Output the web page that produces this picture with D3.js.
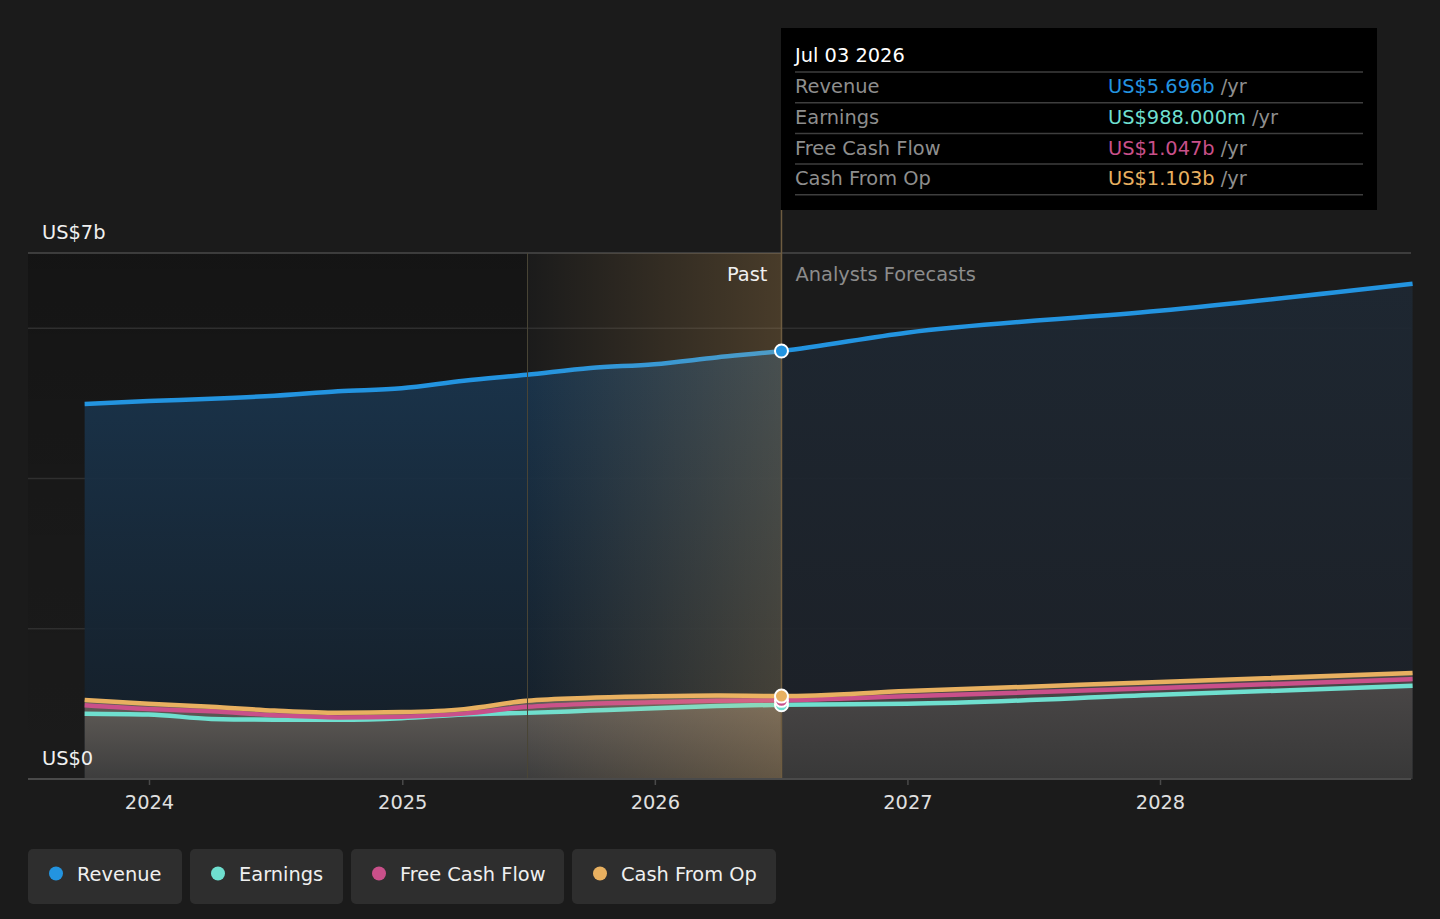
<!DOCTYPE html>
<html>
<head>
<meta charset="utf-8">
<script src="https://cdn.jsdelivr.net/npm/d3@7"></script>
<style>
	html, body { margin: 0; padding: 0; background: #1b1b1b; }
	svg { display: block; font-family: "DejaVu Sans", sans-serif; }
</style>
</head>
<body>
<svg id="chart" width="1440" height="919"></svg>
<script>
// quarter ends up to the tooltip date, then analyst forecast points
var pastDates = ["2023-09-30", "2023-12-31", "2024-03-31", "2024-06-30", "2024-09-30", "2024-12-31",
	"2025-03-31", "2025-06-30", "2025-09-30", "2025-12-31", "2026-03-31", "2026-07-03"];
var forecastDates = ["2026-07-03", "2026-12-31", "2027-12-31", "2028-12-31"];

// values in US$ billions
var revenuePast = [4.99, 5.03, 5.06, 5.10, 5.16, 5.20, 5.30, 5.38, 5.47, 5.52, 5.61, 5.696];
var revenueForecast = [5.696, 5.94, 6.23, 6.59];
var earningsPast = [0.87, 0.86, 0.80, 0.79, 0.79, 0.81, 0.86, 0.88, 0.91, 0.94, 0.97, 0.988];
var earningsForecast = [0.988, 1.00, 1.12, 1.24];
var fcfPast = [0.98, 0.93, 0.90, 0.85, 0.82, 0.83, 0.87, 0.96, 1.00, 1.02, 1.04, 1.047];
var fcfForecast = [1.047, 1.10, 1.21, 1.33];
var cfoPast = [1.05, 1.00, 0.96, 0.91, 0.88, 0.89, 0.93, 1.04, 1.08, 1.10, 1.11, 1.103];
var cfoForecast = [1.103, 1.17, 1.29, 1.41];

var yearTicks = ["2024", "2025", "2026", "2027", "2028"];
var gridValues = [2, 4, 6, 7];

var seriesNames = ["Revenue", "Earnings", "Free Cash Flow", "Cash From Op"];
var seriesColors = ["#2394e0", "#6fdfcf", "#c9508a", "#e8b060"];
var tooltipDate = "Jul 03 2026";
var tooltipValues = ["US$5.696b", "US$988.000m", "US$1.047b", "US$1.103b"];
var highlightStart = "2025-07-01";

var parse = d3.timeParse("%Y-%m-%d");
var svg = d3.select("#chart");
var defs = svg.append("defs");

var plotLeft = 28, plotRight = 1411, plotTop = 253, plotBottom = 779;
var fs = 19.4;

var x = d3.scaleTime()
	.domain([parse("2024-01-01"), parse("2028-01-01")])
	.range([149, 1160]);
var y = d3.scaleLinear().domain([0, 7]).range([plotBottom, plotTop]);

var splitX = x(parse(pastDates[pastDates.length - 1]));
var hlX = x(parse(highlightStart));

function rows(dates, vals)
{
	return dates.map(function(d, i) { return {date: parse(d), v: vals[i]}; });
}

var revenue = rows(pastDates, revenuePast).concat(rows(forecastDates, revenueForecast).slice(1));
var earnings = rows(pastDates, earningsPast).concat(rows(forecastDates, earningsForecast).slice(1));
var fcf = rows(pastDates, fcfPast).concat(rows(forecastDates, fcfForecast).slice(1));
var cfo = rows(pastDates, cfoPast).concat(rows(forecastDates, cfoForecast).slice(1));

function grad(id, x1, y1, x2, y2, stops)
{
	var g = defs.append("linearGradient").attr("id", id)
		.attr("x1", x1).attr("y1", y1).attr("x2", x2).attr("y2", y2);
	stops.forEach(function(s) {
		g.append("stop").attr("offset", s[0]).attr("stop-color", s[1]).attr("stop-opacity", s[2]);
	});
}

grad("pastDark", 0, 0, 0, 1, [[0, "#000", 0.25], [0.5, "#000", 0.1], [1, "#000", 0]]);
grad("revPast", 0, 0, 0, 1, [[0, "#1b3a56", 1], [1, "#141d26", 1]]);
grad("revFore", 0, 0, 0, 1, [[0, "#1e2833", 1], [1, "#1c2027", 1]]);
grad("lowPast", 0, 0, 0, 1, [[0, "#6d6761", 1], [1, "#3d3d3d", 1]]);
grad("lowFore", 0, 0, 0, 1, [[0, "#4b4848", 1], [1, "#383838", 1]]);
grad("hl", 0, 0, 1, 0, [[0, "#ffbe64", 0], [1, "#ffbe64", 0.2]]);

defs.append("clipPath").attr("id", "clipPast").append("rect")
	.attr("x", 0).attr("y", 0).attr("width", splitX).attr("height", 919);
defs.append("clipPath").attr("id", "clipFore").append("rect")
	.attr("x", splitX).attr("y", 0).attr("width", 1440 - splitX).attr("height", 919);

// darker past background
svg.append("rect")
	.attr("x", plotLeft).attr("y", plotTop).attr("width", hlX - plotLeft).attr("height", plotBottom - plotTop)
	.attr("fill", "url(#pastDark)");

// gridlines
svg.append("g").selectAll("line")
	.data(gridValues)
	.enter().append("line")
	.attr("x1", plotLeft).attr("x2", plotRight)
	.attr("y1", function(d) { return y(d); })
	.attr("y2", function(d) { return y(d); })
	.attr("stroke", function(d) { return d == 7 ? "#4a4a4a" : "#2f2f2f"; })
	.attr("stroke-width", 1.5);

var curve = d3.curveMonotoneX;
var area = d3.area().curve(curve)
	.x(function(d) { return x(d.date); })
	.y0(y(0))
	.y1(function(d) { return y(d.v); });
var line = d3.line().curve(curve)
	.x(function(d) { return x(d.date); })
	.y(function(d) { return y(d.v); });

// area fills, split at the tooltip date
[["clipPast", "revPast", "lowPast"], ["clipFore", "revFore", "lowFore"]].forEach(function(p) {
	var g = svg.append("g").attr("clip-path", "url(#" + p[0] + ")");
	g.append("path").datum(revenue).attr("d", area).attr("fill", "url(#" + p[1] + ")").attr("fill-opacity", 0.92);
	g.append("path").datum(cfo).attr("d", area).attr("fill", "url(#" + p[2] + ")");
});

// lines
var lineData = [revenue, earnings, fcf, cfo];
[0, 1, 2, 3].forEach(function(i) {
	svg.append("path").datum(lineData[i])
		.attr("d", line)
		.attr("fill", "none")
		.attr("stroke", seriesColors[i])
		.attr("stroke-width", 4.5);
});

// highlighted last year of past data
svg.append("rect")
	.attr("x", hlX).attr("y", plotTop).attr("width", splitX - hlX).attr("height", plotBottom - plotTop)
	.attr("fill", "url(#hl)");
svg.append("line")
	.attr("x1", hlX).attr("x2", hlX).attr("y1", plotTop).attr("y2", plotBottom)
	.attr("stroke", "#4a4636").attr("stroke-width", 1);
svg.append("line")
	.attr("x1", splitX).attr("x2", splitX).attr("y1", 210).attr("y2", plotBottom)
	.attr("stroke", "#6e5c40").attr("stroke-width", 1.5);

// markers at the tooltip date
var last = pastDates.length - 1;
[1, 2, 3, 0].forEach(function(i) {
	svg.append("circle")
		.attr("cx", splitX)
		.attr("cy", y(lineData[i][last].v))
		.attr("r", 6.5)
		.attr("fill", seriesColors[i])
		.attr("stroke", "#fff")
		.attr("stroke-width", 2);
});

// y labels
svg.append("text").attr("x", 42).attr("y", y(7) - 21).attr("dy", "0.35em")
	.attr("fill", "#f0f0f0").attr("font-size", fs).text("US$7b");
svg.append("text").attr("x", 42).attr("y", y(0) - 21).attr("dy", "0.35em")
	.attr("fill", "#f0f0f0").attr("font-size", fs).text("US$0");

svg.append("text").attr("x", splitX - 14).attr("y", 274).attr("dy", "0.35em")
	.attr("text-anchor", "end").attr("fill", "#f0f0f0").attr("font-size", fs).text("Past");
svg.append("text").attr("x", splitX + 14).attr("y", 274).attr("dy", "0.35em")
	.attr("fill", "#8c8c8c").attr("font-size", fs).text("Analysts Forecasts");

// x axis
var xAxis = d3.axisBottom(x)
	.tickValues(yearTicks.map(function(t) { return parse(t + "-01-01"); }))
	.tickFormat(d3.timeFormat("%Y"))
	.tickSize(6)
	.tickPadding(10);
var ax = svg.append("g").attr("transform", "translate(0," + plotBottom + ")").call(xAxis);
ax.select(".domain").remove();
ax.insert("line", ":first-child").attr("x1", plotLeft).attr("x2", plotRight)
	.attr("stroke", "#4a4a4a").attr("stroke-width", 2);
ax.selectAll(".tick line").attr("stroke", "#4a4a4a").attr("stroke-width", 1.5);
ax.selectAll(".tick text").attr("fill", "#e0e0e0").attr("font-size", fs)
	.attr("font-family", "DejaVu Sans, sans-serif");

// tooltip
var tip = svg.append("g");
tip.append("rect").attr("x", 781).attr("y", 28).attr("width", 596).attr("height", 182).attr("fill", "#000");
tip.append("text").attr("x", 795).attr("y", 55).attr("dy", "0.35em")
	.attr("fill", "#fff").attr("font-size", fs).text(tooltipDate);
var rowY = d3.scaleLinear().domain([0, 1]).range([72, 102.7]);
for(var i = 0; i < 5; i++)
{
	tip.append("line").attr("x1", 795).attr("x2", 1363)
		.attr("y1", rowY(i)).attr("y2", rowY(i))
		.attr("stroke", "#3e3e3e").attr("stroke-width", 1.5);
}
seriesNames.forEach(function(n, i) {
	var cy = rowY(i) + 14.5;
	tip.append("text").attr("x", 795).attr("y", cy).attr("dy", "0.35em")
		.attr("fill", "#8e8e8e").attr("font-size", fs).text(n);
	var t = tip.append("text").attr("x", 1108).attr("y", cy).attr("dy", "0.35em").attr("font-size", fs);
	t.append("tspan").attr("fill", seriesColors[i]).text(tooltipValues[i]);
	t.append("tspan").attr("fill", "#8e8e8e").text(" /yr");
});

// legend
var legendX = [28, 190, 351, 572];
var legendW = [154, 153, 213, 204];
var lg = svg.append("g").selectAll("g")
	.data(seriesNames)
	.enter().append("g")
	.attr("transform", function(d, i) { return "translate(" + legendX[i] + ",849)"; });
lg.append("rect").attr("width", function(d, i) { return legendW[i]; }).attr("height", 55)
	.attr("rx", 5).attr("fill", "#2e2e2e");
lg.append("circle").attr("cx", 28).attr("cy", 24.5).attr("r", 7)
	.attr("fill", function(d, i) { return seriesColors[i]; });
lg.append("text").attr("x", 49).attr("y", 25).attr("dy", "0.35em")
	.attr("fill", "#f0f0f0").attr("font-size", fs).text(function(d) { return d; });
</script>
</body>
</html>
